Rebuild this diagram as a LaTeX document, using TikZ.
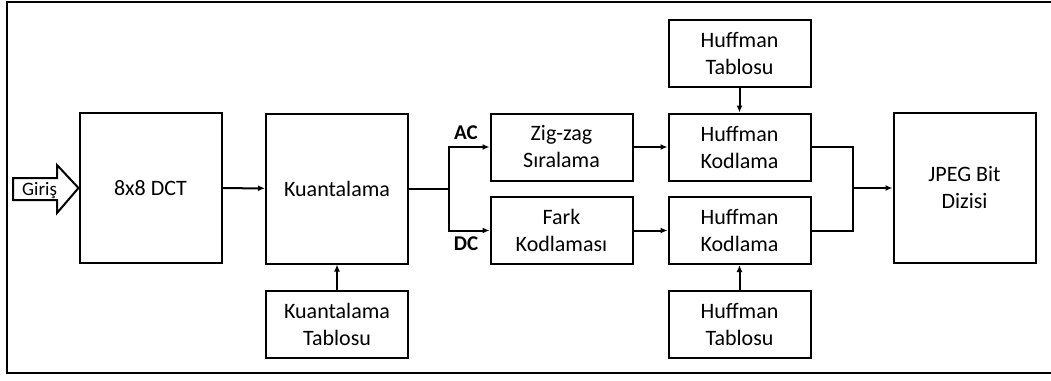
\documentclass[tikz,border=0pt]{standalone}
\usepackage{fontspec}
\setmainfont{Carlito}
\usetikzlibrary{arrows.meta}

\tikzset{
  blok/.style={draw, line width=2pt, minimum width=142pt, align=center,
    font=\fontsize{22}{27}\selectfont, inner sep=0pt},
  kisa/.style={blok, minimum height=67pt},
  uzun/.style={blok, minimum height=150pt},
  ok/.style={line width=2pt, -{Latex[length=7pt,width=6pt]}},
  hat/.style={line width=2pt},
  etiket/.style={font=\fontsize{21}{22}\selectfont\bfseries}
}

\begin{document}
\begin{tikzpicture}[x=1pt, y=-1pt]
  \useasboundingbox (0,0) rectangle (1051,380);
  % Frame
  \draw[line width=2.5pt] (1055,2) -- (7,2) -- (7,373) -- (1055,373);

  % Blocks
  \node[uzun] (dct)    at (150.5,188) {8x8 DCT};
  \node[uzun] (kuant)  at (337,188.5) {Kuantalama};
  \node[kisa] (ktab)   at (337,324.5) {Kuantalama\\Tablosu};
  \node[kisa] (zigzag) at (561.5,147) {Zig-zag\\Sıralama};
  \node[kisa] (fark)   at (561.5,230.5) {Fark\\Kodlaması};
  \node[kisa] (htabup) at (739.5,53)  {Huffman\\Tablosu};
  \node[kisa] (hkodup) at (739.5,147) {Huffman\\Kodlama};
  \node[kisa] (hkoddn) at (739.5,230.5) {Huffman\\Kodlama};
  \node[kisa] (htabdn) at (739.5,324) {Huffman\\Tablosu};
  \node[uzun] (jpeg)   at (964.5,188) {JPEG Bit\\Dizisi};

  % Input arrow
  \draw[line width=2pt, fill=white] (13,178) -- (57,178) -- (57,165) -- (dct.west)
    -- (57,213) -- (57,200) -- (13,200) -- cycle;
  \node[font=\fontsize{19}{21}\selectfont, anchor=base west, inner sep=0pt] (giris) at (22,195.5) {Giriş};

  % Connectors
  \draw[ok] (dct) -- (kuant);
  \draw[ok] (ktab) -- (kuant);
  \coordinate (ayir) at (449,188.5);
  \draw[hat] (kuant.east) -- (ayir);
  \draw[ok] (ayir) |- (zigzag.west);
  \draw[ok] (ayir) |- (fark.west);
  \node[etiket] (ac) at (466,133) {AC};
  \node[etiket] (dc) at (466,244) {DC};
  \draw[ok] (zigzag) -- (hkodup);
  \draw[ok] (fark) -- (hkoddn);
  \draw[ok] (htabup) -- (hkodup);
  \draw[ok] (htabdn) -- (hkoddn);
  \coordinate (birles) at (853,188);
  \draw[hat] (hkodup.east) -| (birles) |- (hkoddn.east);
  \draw[ok] (birles) -- (jpeg.west);
\end{tikzpicture}
\end{document}
